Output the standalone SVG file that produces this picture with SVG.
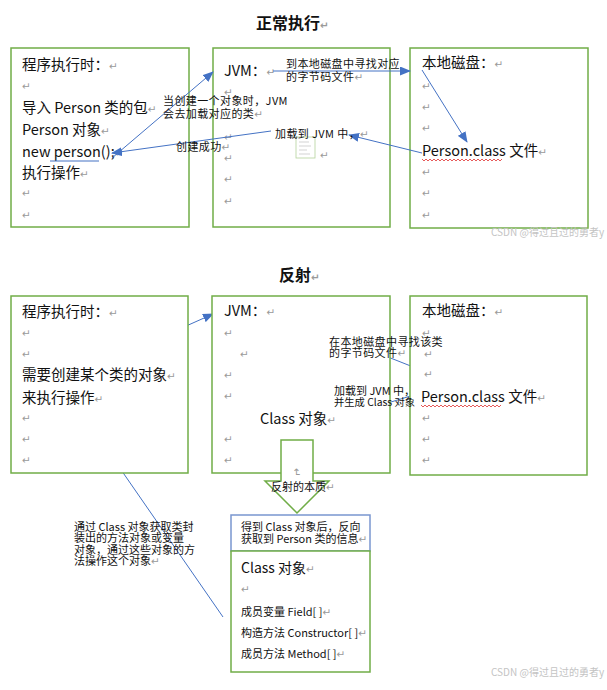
<svg xmlns="http://www.w3.org/2000/svg" width="607" height="690" viewBox="0 0 607 690">
<style>
text{font-family:"Noto Sans CJK SC","Noto Sans",sans-serif;fill:#111}
.t{font-size:14.5px}
.h{font-size:16px;font-weight:bold}
.s{font-size:11px;letter-spacing:0.4px}
.m{font-size:11px}
.rm{font-family:"DejaVu Sans",sans-serif;font-size:10.5px;fill:#9a9a9a;letter-spacing:0}
.wm{font-size:10px;fill:#c4c4c4}
.box{fill:#fff;stroke:#70AD47;stroke-width:1.5}
.bbox{fill:#fff;stroke:#7A96D0;stroke-width:1.5}
.ln{stroke:#4472C4;stroke-width:1;fill:none;marker-end:url(#ah)}
.wave{stroke:#E03030;stroke-width:0.8;fill:none}
</style>
<defs>
<marker id="ah" markerUnits="userSpaceOnUse" markerWidth="11" markerHeight="9" refX="10" refY="4.5" orient="auto">
<path d="M0,0 L11,4.5 L0,9 z" fill="#4472C4"/>
</marker>
</defs>
<rect width="607" height="690" fill="#fff"/>

<text class="h" x="256" y="29">正常执行<tspan class="rm">↵</tspan></text>

<g id="n-prog1">
<rect class="box" x="11" y="48" width="178" height="179"/>
<text class="t" x="22" y="70">程序执行时：<tspan class="rm">↵</tspan></text>
<text class="rm" x="22" y="90">↵</text>
<text class="t" x="22" y="113">导入 Person 类的包<tspan class="rm">↵</tspan></text>
<text class="t" x="22" y="135">Person 对象<tspan class="rm">↵</tspan></text>
<text class="t" x="22" y="157">new person();<tspan class="rm">↵</tspan></text>
<line x1="50" y1="161" x2="99" y2="161" stroke="#4472C4" stroke-width="1.2"/>
<text class="t" x="22" y="178">执行操作<tspan class="rm">↵</tspan></text>
<text class="rm" x="22" y="197">↵</text>
<text class="rm" x="22" y="219">↵</text>
</g>

<g id="n-jvm1">
<rect class="box" x="213" y="48" width="177" height="179"/>
<text class="t" x="224" y="76">JVM：<tspan class="rm">↵</tspan></text>
<text class="rm" x="224" y="96">↵</text>
<text class="rm" x="224" y="141">↵</text>
<text class="rm" x="224" y="162">↵</text>
<text class="rm" x="224" y="183">↵</text>
<text class="rm" x="224" y="205">↵</text>
<rect x="296" y="137" width="19" height="21" fill="#fff" stroke="#b5d39c" stroke-width="0.8"/>
<path d="M299,142h10M299,146h12M299,150h8M299,154h11" stroke="#c8c8c8" stroke-width="0.8"/>
<text class="rm" x="320" y="159">↵</text>
</g>

<g id="n-disk1">
<rect class="box" x="410" y="48" width="178" height="180"/>
<text class="t" x="422" y="68">本地磁盘：<tspan class="rm">↵</tspan></text>
<text class="rm" x="422" y="90">↵</text>
<text class="rm" x="422" y="111">↵</text>
<text class="rm" x="422" y="132">↵</text>
<text class="t" x="422" y="156">Person.class 文件<tspan class="rm">↵</tspan></text>
<path class="wave" d="M422,159 l2,2 l2,-2 l2,2 l2,-2 l2,2 l2,-2 l2,2 l2,-2 l2,2 l2,-2 l2,2 l2,-2 l2,2 l2,-2 l2,2 l2,-2 l2,2 l2,-2 l2,2 l2,-2 l2,2 l2,-2 l2,2 l2,-2 l2,2 l2,-2 l2,2 l2,-2 l2,2 l2,-2 l2,2 l2,-2 l2,2 l2,-2 l2,2 l2,-2 l2,2 l2,-2 l2,2 l2,-2"/>
<text class="rm" x="422" y="176">↵</text>
<text class="rm" x="422" y="197">↵</text>
<text class="rm" x="422" y="219">↵</text>
</g>

<text class="wm" x="491" y="236">CSDN @得过且过的勇者y</text>

<g id="connectors">
<line class="ln" x1="112" y1="158" x2="213" y2="72"/>
<line class="ln" x1="273" y1="71" x2="410" y2="71"/>
<line class="ln" x1="271" y1="131" x2="112" y2="153"/>
<line class="ln" x1="422" y1="153" x2="349" y2="135"/>
<line class="ln" x1="422" y1="70" x2="467" y2="142"/>
<line class="ln" x1="110" y1="360" x2="213" y2="314"/>
<line class="ln" x1="282" y1="315" x2="441" y2="378"/>
<line class="ln" x1="417" y1="394" x2="339" y2="418"/>
<line class="ln" x1="223" y1="617" x2="81" y2="412"/>
</g>

<g id="labels-top">
<text class="s" x="286" y="68">到本地磁盘中寻找对应</text>
<text class="s" x="286" y="81">的字节码文件<tspan class="rm">↵</tspan></text>
<text class="s" x="163" y="105">当创建一个对象时，JVM</text>
<text class="s" x="163" y="118">会去加载对应的类<tspan class="rm">↵</tspan></text>
<text class="s" x="275" y="138">加载到 JVM 中，<tspan class="rm">↵</tspan></text>
<text class="s" x="176" y="151">创建成功<tspan class="rm">↵</tspan></text>
</g>

<text class="h" x="279" y="281">反射<tspan class="rm">↵</tspan></text>

<g id="n-prog2">
<rect class="box" x="11" y="296" width="177" height="177"/>
<text class="t" x="22" y="317">程序执行时：<tspan class="rm">↵</tspan></text>
<text class="rm" x="22" y="337">↵</text>
<text class="rm" x="22" y="358">↵</text>
<text class="t" x="22" y="380">需要创建某个类的对象<tspan class="rm">↵</tspan></text>
<text class="t" x="22" y="403">来执行操作<tspan class="rm">↵</tspan></text>
<text class="rm" x="22" y="422">↵</text>
<text class="rm" x="22" y="443">↵</text>
<text class="rm" x="22" y="464">↵</text>
</g>

<g id="n-jvm2">
<rect class="box" x="212" y="296" width="178" height="177"/>
<text class="t" x="224" y="316">JVM：<tspan class="rm">↵</tspan></text>
<text class="rm" x="224" y="337">↵</text>
<text class="rm" x="240" y="358">↵</text>
<text class="rm" x="224" y="379">↵</text>
<text class="rm" x="224" y="400">↵</text>
<text class="t" x="260" y="424">Class 对象<tspan class="rm">↵</tspan></text>
<text class="rm" x="224" y="443">↵</text>
<text class="rm" x="224" y="464">↵</text>
</g>

<g id="n-disk2">
<rect class="box" x="410" y="296" width="177" height="179"/>
<text class="t" x="422" y="316">本地磁盘：<tspan class="rm">↵</tspan></text>
<text class="rm" x="422" y="337">↵</text>
<text class="rm" x="424" y="358">↵</text>
<text class="rm" x="424" y="378">↵</text>
<text class="t" x="421" y="402">Person.class 文件<tspan class="rm">↵</tspan></text>
<path class="wave" d="M421,405 l2,2 l2,-2 l2,2 l2,-2 l2,2 l2,-2 l2,2 l2,-2 l2,2 l2,-2 l2,2 l2,-2 l2,2 l2,-2 l2,2 l2,-2 l2,2 l2,-2 l2,2 l2,-2 l2,2 l2,-2 l2,2 l2,-2 l2,2 l2,-2 l2,2 l2,-2 l2,2 l2,-2 l2,2 l2,-2 l2,2 l2,-2 l2,2 l2,-2 l2,2 l2,-2 l2,2 l2,-2"/>
<text class="rm" x="422" y="422">↵</text>
<text class="rm" x="422" y="443">↵</text>
<text class="rm" x="422" y="464">↵</text>
</g>

<g id="n-essence">
<polygon points="281,440 313,440 313,481 329,481 297,513 265,481 281,481" fill="#fff" stroke="#70AD47" stroke-width="1.5"/>
<text class="rm" x="0" y="0" transform="translate(293,468) rotate(90)">↵</text>
<text class="m" x="271" y="491">反射的本质<tspan class="rm">↵</tspan></text>
</g>

<g id="n-info">
<rect class="bbox" x="231" y="515" width="139" height="36"/>
<text class="m" x="241" y="531">得到 Class 对象后，反向</text>
<text class="m" x="241" y="543">获取到 Person 类的信息<tspan class="rm">↵</tspan></text>
</g>

<g id="n-class">
<rect class="box" x="231" y="551" width="139" height="121"/>
<text class="t" x="241" y="573" style="font-size:14px">Class 对象<tspan class="rm">↵</tspan></text>
<text class="rm" x="241" y="593">↵</text>
<text class="m" x="241" y="616">成员变量  Field[ ]<tspan class="rm">↵</tspan></text>
<text class="m" x="241" y="637">构造方法  Constructor[ ]<tspan class="rm">↵</tspan></text>
<text class="m" x="241" y="658">成员方法  Method[ ]<tspan class="rm">↵</tspan></text>
</g>

<g id="labels-bottom">
<text class="s" x="329" y="346">在本地磁盘中寻找该类</text>
<text class="s" x="329" y="357">的字节码文件<tspan class="rm">↵</tspan></text>
<text class="m" x="334" y="395">加载到 JVM 中，</text>
<text class="m" x="334" y="406" style="font-size:10.3px">并生成 Class 对象</text>
<text class="m" x="74" y="531">通过 Class 对象获取类封</text>
<text class="m" x="74" y="542">装出的方法对象或变量</text>
<text class="m" x="74" y="554">对象，通过这些对象的方</text>
<text class="m" x="74" y="565">法操作这个对象<tspan class="rm">↵</tspan></text>
</g>

<text class="wm" x="491" y="676">CSDN @得过且过的勇者y</text>
</svg>
